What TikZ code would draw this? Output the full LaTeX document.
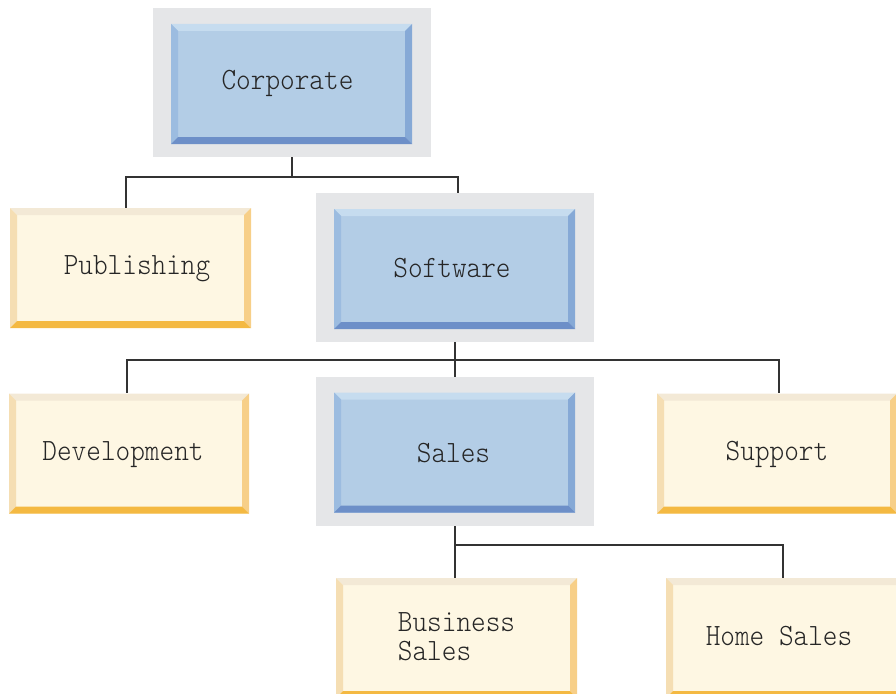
\documentclass[tikz,border=0pt]{standalone}
\usepackage{fontspec}
\newfontfamily\boxfont{lmmonolt10-regular.otf}[FakeStretch=0.9]
\definecolor{bface}{HTML}{B3CDE6}
\definecolor{btop}{HTML}{C6DCEF}
\definecolor{bleft}{HTML}{9CBCE0}
\definecolor{bright}{HTML}{86A9D6}
\definecolor{bbot}{HTML}{6D8FC8}
\definecolor{yface}{HTML}{FEF7E3}
\definecolor{ytop}{HTML}{F3E9D6}
\definecolor{yleft}{HTML}{F5DEB3}
\definecolor{yright}{HTML}{F7CF88}
\definecolor{ybot}{HTML}{F4B942}
\definecolor{bggrey}{HTML}{E5E6E8}
\definecolor{linec}{HTML}{333333}
\tikzset{
  bevel/.style n args={4}{path picture={
    \fill[#1] (path picture bounding box.north west) -- (path picture bounding box.north east)
      -- ([shift={(-7pt,-7pt)}]path picture bounding box.north east) -- ([shift={(7pt,-7pt)}]path picture bounding box.north west) -- cycle;
    \fill[#2] (path picture bounding box.north west) -- (path picture bounding box.south west)
      -- ([shift={(7pt,7pt)}]path picture bounding box.south west) -- ([shift={(7pt,-7pt)}]path picture bounding box.north west) -- cycle;
    \fill[#3] (path picture bounding box.north east) -- (path picture bounding box.south east)
      -- ([shift={(-7pt,7pt)}]path picture bounding box.south east) -- ([shift={(-7pt,-7pt)}]path picture bounding box.north east) -- cycle;
    \fill[#4] (path picture bounding box.south west) -- (path picture bounding box.south east)
      -- ([shift={(-7pt,7pt)}]path picture bounding box.south east) -- ([shift={(7pt,7pt)}]path picture bounding box.south west) -- cycle;
  }},
  boxbase/.style={rectangle, inner sep=0pt, minimum width=241pt, minimum height=120pt,
    font=\boxfont\fontsize{31}{29}\selectfont, text=black!85, text height=19pt, text depth=6pt, align=left},
  bluebox/.style={boxbase, fill=bface, bevel={btop}{bleft}{bright}{bbot}},
  yellowbox/.style={boxbase, fill=yface, bevel={ytop}{yleft}{yright}{ybot}},
  backdrop/.style={rectangle, inner sep=0pt, fill=bggrey, minimum width=278pt, minimum height=149pt},
  conn/.style={draw=linec, line width=1.6pt}
}
\begin{document}
\begin{tikzpicture}[x=1pt,y=-1pt]
\useasboundingbox (0,0) rectangle (896,693);
\clip (0,0) rectangle (896,693);
% backdrops
\node[backdrop] (corpBg) at (292,82.5) {};
\node[backdrop] (swBg) at (455,267.5) {};
\node[backdrop] (salesBg) at (455,451.5) {};
% boxes
\node[bluebox, text depth=8pt] (corp) at (291.5,84) {Corporate\hspace{8pt}};
\node[yellowbox] (pub) at (130.5,268) {\hspace{13pt}Publishing};
\node[bluebox, text depth=2pt] (sw) at (454.5,269) {Software\hspace{5pt}};
\node[yellowbox, minimum width=240pt] (dev) at (129,453.5) {Development\hspace{12pt}};
\node[bluebox, text depth=0pt] (sales) at (454.5,452.5) {Sales\hspace{2pt}};
\node[yellowbox, minimum width=240pt] (sup) at (777,453.5) {Support};
\node[yellowbox, text height=45pt, text depth=0pt] (bus) at (456.5,638) {Business\\Sales};
\node[yellowbox, minimum width=240pt, text depth=4pt] (home) at (786,638) {Home Sales\hspace{14pt}};
% connector junctions
\coordinate (c1) at (126,177);
\coordinate (c2) at (458,177);
\coordinate (c3) at (127,360);
\coordinate (c4) at (779,360);
\coordinate (c5) at (783,545);
\draw[conn] (corpBg.south) |- (c1) -- (c1 |- pub.north);
\draw[conn] (corpBg.south) |- (c2) -- (c2 |- swBg.north);
\draw[conn] (swBg.south) |- (c3) -- (c3 |- dev.north);
\draw[conn] (swBg.south) |- (c4) -- (c4 |- sup.north);
\draw[conn] (swBg.south) -- (salesBg.north);
\draw[conn] (salesBg.south) -- (salesBg.south |- bus.north);
\draw[conn] (salesBg.south) |- (c5) -- (c5 |- home.north);
\end{tikzpicture}
\end{document}
